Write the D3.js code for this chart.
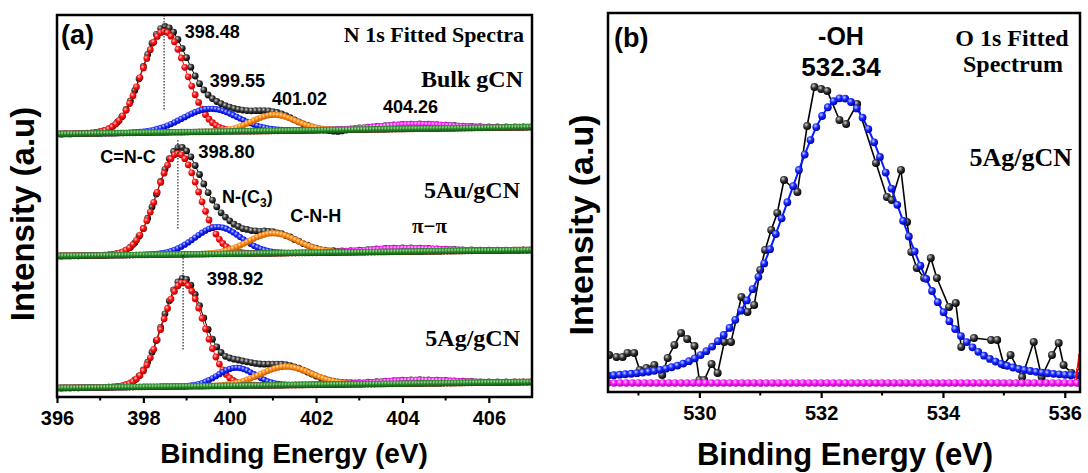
<!DOCTYPE html>
<html>
<head>
<meta charset="utf-8">
<script src="https://cdn.jsdelivr.net/npm/d3@7/dist/d3.min.js"></script>
<style>
  html, body { margin: 0; padding: 0; background: #fff; }
  svg { display: block; }
  text { font-family: "Liberation Sans", Arial, sans-serif; font-weight: bold; fill: #000; }
  text.serif { font-family: "Liberation Serif", "Times New Roman", serif; }
</style>
</head>
<body>
<svg id="chart" width="1088" height="473"></svg>
<script>
// ================= N 1s fitted spectra (panel a) =================
// Measured counts are sampled every 0.1 eV from 396.0 eV.
const n1sStart = 396.0;
const n1sStep = 0.1;
const n1sTicks = [396, 398, 400, 402, 404, 406];

const sampleNames = ["Bulk gCN", "5Au/gCN", "5Ag/gCN"];
const sampleOffsets = [263, 141, 9];      // vertical stacking offset (a.u.)
const backgroundRise = [7, 6, 6];         // linear background rise over 396-407 eV

// fitted components per sample: C=N-C, N-(C3), C-N-H, pi-pi
const bulkCenters = [398.48, 399.55, 401.02, 404.26];
const bulkHeights = [101, 23, 16, 4.5];
const bulkFwhm    = [1.2, 1.5, 1.2, 2.0];

const auCenters = [398.80, 399.72, 401.00, 404.00];
const auHeights = [101, 27, 20, 3.5];
const auFwhm    = [1.15, 1.25, 1.35, 2.0];

const agCenters = [398.92, 400.15, 401.30, 404.30];
const agHeights = [104, 18, 18.5, 3.5];
const agFwhm    = [1.12, 1.0, 1.4, 2.0];

const bulkCounts = [
  0.2, 0.0, 0.3, 0.1, 0.4, 0.5, 0.3, 0.9, 1.2, 1.6,
  2.4, 3.5, 5.4, 8.2, 12.0, 17.3, 24.5, 33.1, 43.6, 55.2,
  67.5, 79.6, 90.8, 99.6, 105.4, 107.6, 106.2, 101.9, 94.6, 85.7,
  76.3, 66.8, 58.0, 50.3, 44.1, 39.0, 35.4, 32.5, 30.3, 28.4,
  26.9, 25.6, 24.6, 23.9, 23.4, 23.2, 23.3, 23.3, 23.4, 23.1,
  22.4, 21.5, 20.1, 18.4, 16.3, 14.2, 12.1, 10.2, 8.5, 7.0,
  5.8, 4.9, 4.1, 3.4, 2.8, 2.6, 3.1, 3.9, 4.8, 5.4,
  6.1, 6.2, 6.8, 7.1, 7.6, 7.7, 8.4, 8.4, 9.0, 9.2,
  9.5, 9.4, 9.9, 9.6, 10.0, 9.6, 9.8, 9.3, 9.4, 8.9,
  8.9, 8.4, 8.5, 7.8, 7.9, 7.4, 7.6, 7.0, 7.3, 6.8,
  7.1, 6.7, 7.0, 6.6, 7.0, 6.7, 7.1, 6.8, 7.0, 6.9,
  7.1
];
const auCounts = [
  0.1, 0.0, 0.2, 0.1, 0.3, 0.2, 0.4, 0.3, 0.5, 0.6,
  0.7, 0.9, 1.1, 1.7, 2.5, 3.6, 5.9, 8.8, 13.2, 19.8,
  27.4, 37.8, 49.0, 61.9, 74.5, 86.7, 97.4, 104.5, 108.3, 108.6,
  105.1, 99.2, 90.5, 81.5, 72.1, 63.4, 55.9, 49.2, 43.2, 38.9,
  35.2, 31.8, 29.6, 27.4, 26.6, 25.4, 25.2, 24.7, 25.0, 24.5,
  24.4, 23.2, 22.4, 20.4, 19.0, 16.5, 14.9, 12.4, 10.9, 8.9,
  7.8, 6.3, 5.8, 5.2, 5.3, 4.7, 5.1, 4.8, 5.3, 5.1,
  5.8, 5.7, 6.4, 6.3, 7.0, 6.8, 7.5, 7.3, 7.9, 7.6,
  8.1, 7.7, 8.1, 7.6, 7.9, 7.4, 7.6, 7.0, 7.2, 6.7,
  6.8, 6.3, 6.5, 6.0, 6.2, 5.7, 6.0, 5.6, 5.9, 5.5,
  5.8, 5.6, 5.9, 5.5, 5.8, 5.7, 5.9, 5.7, 6.0, 5.8,
  6.0
];
const agCounts = [
  0.1, 0.0, 0.2, 0.1, 0.3, 0.2, 0.4, 0.3, 0.5, 0.4,
  0.7, 0.6, 0.9, 1.1, 1.5, 2.2, 3.3, 5.2, 8.0, 12.2,
  18.1, 25.9, 35.8, 47.5, 60.6, 74.2, 87.2, 98.2, 106.0, 109.6,
  108.6, 102.8, 93.7, 82.4, 70.2, 58.6, 48.8, 41.1, 35.5, 31.7,
  30.0, 28.8, 28.0, 27.0, 26.2, 25.4, 24.6, 24.0, 23.8, 23.8,
  23.8, 23.9, 23.8, 23.4, 22.4, 21.2, 19.8, 17.9, 16.0, 14.0,
  12.0, 10.4, 9.0, 7.8, 6.9, 6.1, 5.7, 5.3, 5.3, 5.0,
  5.4, 5.2, 5.8, 5.6, 6.3, 6.2, 6.9, 6.8, 7.4, 7.3,
  7.9, 7.7, 8.2, 7.9, 8.3, 7.9, 8.1, 7.7, 7.9, 7.4,
  7.5, 7.0, 7.2, 6.7, 6.8, 6.3, 6.5, 6.0, 6.2, 5.8,
  6.1, 5.7, 6.0, 5.6, 6.0, 5.7, 6.0, 5.8, 6.1, 5.9,
  6.1
];

// ================= O 1s fitted spectrum (panel b) =================
const o1sTicks = [530, 532, 534, 536];
const o1sEnergy = [
  528.52, 528.64, 528.74, 528.82, 528.93, 529.02, 529.13, 529.26, 529.39, 529.48,
  529.59, 529.70, 529.80, 529.92, 530.00, 530.08, 530.20, 530.30, 530.41, 530.52,
  530.69, 530.79, 530.90, 531.00, 531.08, 531.18, 531.28, 531.39, 531.61, 531.77,
  531.89, 532.00, 532.10, 532.30, 532.41, 532.59, 532.90, 533.08, 533.16, 533.31,
  533.41, 533.48, 533.57, 533.69, 533.80, 533.90, 534.10, 534.21, 534.30, 534.51,
  534.79, 534.89, 535.00, 535.11, 535.30, 535.49, 535.62, 535.79, 535.90, 535.98,
  536.11
];
const o1sCounts = [
  28, 26, 26, 30, 30, 13, 15, 18, 8, 25,
  38, 50, 44, 37, 3, 3, 19, 10, 41, 41,
  86, 71, 78, 113, 133, 153, 170, 203, 191, 257,
  296, 294, 292, 263, 259, 279, 220, 186, 183, 213,
  161, 131, 115, 105, 125, 105, 76, 80, 36, 45,
  43, 43, 18, 28, 6, 41, 6, 28, 40, 18,
  10
];
// -OH component (Gaussian-Lorentzian sum)
const ohCenter = 532.34;
const ohHeight = 285;
const ohFwhm = 2.25;
const ohLorentzFraction = 0.33;
const o1sBackground = 0;
// onset of a neighbouring component at the high-energy edge
const edgeEnergy = [536.18, 536.21, 536.24];
const edgeCounts = [4, 14, 28];

// ================= drawing =================
const svg = d3.select("#chart");
const defs = svg.append("defs");

function sphere(id, light, base, dark) {
  const g = defs.append("radialGradient").attr("id", id)
    .attr("cx", "38%").attr("cy", "34%").attr("r", "66%");
  g.append("stop").attr("offset", "0%").attr("stop-color", light);
  g.append("stop").attr("offset", "45%").attr("stop-color", base);
  g.append("stop").attr("offset", "100%").attr("stop-color", dark);
}
sphere("sp-black", "#d0d0d0", "#3c3c3c", "#000000");
sphere("sp-red", "#ffc8c8", "#ff1414", "#b00000");
sphere("sp-blue", "#c8d0ff", "#1a2cff", "#0000a8");
sphere("sp-orange", "#ffe2b8", "#ff8a10", "#c25a00");
sphere("sp-magenta", "#ffd6ff", "#ff18ff", "#b000b0");
sphere("sp-green", "#b0e0a8", "#2a8c2a", "#0b520b");

const gauss = (x, c, h, w) => h * Math.exp(-4 * Math.LN2 * (x - c) * (x - c) / (w * w));

// ---------- panel (a) ----------
const ax = d3.scaleLinear().domain([396, 407]).range([57, 532]);
const ay = d3.scaleLinear().domain([0, 382]).range([397, 15]);

svg.append("clipPath").attr("id", "clipA")
  .append("rect").attr("x", 57).attr("y", 15).attr("width", 475).attr("height", 382);
const pa = svg.append("g").attr("clip-path", "url(#clipA)");

const compColors = ["sp-red", "sp-blue", "sp-orange", "sp-magenta"];
const compStroke = ["#ff0000", "#1a2cff", "#ff8a10", "#ff18ff"];
const fineGrid = d3.range(396, 407.0001, 0.08);
const bgGrid = d3.range(396, 407.0001, 0.07);

const fits = [
  { c: bulkCenters, h: bulkHeights, w: bulkFwhm, counts: bulkCounts },
  { c: auCenters, h: auHeights, w: auFwhm, counts: auCounts },
  { c: agCenters, h: agHeights, w: agFwhm, counts: agCounts }
];

function drawSeries(g, pts, xs, ys, grad, stroke, r, lineW) {
  if (stroke) {
    g.append("path").datum(pts)
      .attr("fill", "none").attr("stroke", stroke).attr("stroke-width", lineW)
      .attr("d", d3.line().x(d => xs(d[0])).y(d => ys(d[1])));
  }
  g.selectAll(null).data(pts).join("circle")
    .attr("cx", d => xs(d[0])).attr("cy", d => ys(d[1])).attr("r", r)
    .attr("fill", `url(#${grad})`);
}

fits.forEach((f, i) => {
  const off = sampleOffsets[i];
  const bg = x => off + backgroundRise[i] * (x - 396) / 11;
  const g = pa.append("g");
  // measured data
  const dataPts = f.counts.map((v, j) => [n1sStart + j * n1sStep, off + v]);
  drawSeries(g, dataPts, ax, ay, "sp-black", "#000", 3.4, 1);
  // fitted components
  f.c.forEach((c, k) => {
    const pts = fineGrid.map(x => [x, bg(x) + gauss(x, c, f.h[k], f.w[k])]);
    drawSeries(g, pts, ax, ay, compColors[k], compStroke[k], k === 0 ? 3.4 : 3.1, 1);
  });
  // background
  const bgPts = bgGrid.map(x => [x, bg(x)]);
  drawSeries(g, bgPts, ax, ay, "sp-green", null, 3.3, 0);
});

// peak-position guide lines
const guideEnergy = [398.48, 398.80, 398.92];
const guideTop = [382, 257, 142];
const guideBottom = [287, 167, 47];
guideEnergy.forEach((e, i) => {
  svg.append("line")
    .attr("x1", ax(e)).attr("x2", ax(e))
    .attr("y1", ay(guideTop[i])).attr("y2", ay(guideBottom[i]))
    .attr("stroke", "#000").attr("stroke-width", 1).attr("stroke-dasharray", "1.5,1.5");
});

// frame + axis
svg.append("rect").attr("x", 57).attr("y", 15).attr("width", 475).attr("height", 382)
  .attr("fill", "none").attr("stroke", "#000").attr("stroke-width", 2.5);

const axA = svg.append("g").attr("transform", "translate(0,397)")
  .call(d3.axisBottom(ax).tickValues(n1sTicks).tickSize(6).tickFormat(d3.format("d")));
axA.select(".domain").remove();
axA.selectAll("line").attr("stroke-width", 2.2);
axA.selectAll("text").attr("font-size", 20).attr("y", 28).attr("dy", 0)
  .style("font-family", '"Liberation Sans", Arial, sans-serif').style("font-weight", "bold");
svg.append("g").attr("transform", "translate(0,397)")
  .selectAll("line").data([397, 399, 401, 403, 405]).join("line")
  .attr("x1", d => ax(d)).attr("x2", d => ax(d)).attr("y1", 0).attr("y2", 3.5)
  .attr("stroke", "#000").attr("stroke-width", 2);

svg.append("text").attr("x", 294).attr("y", 463).attr("text-anchor", "middle")
  .attr("font-size", 28).text("Binding Energy (eV)");
svg.append("text").attr("transform", "translate(34,214) rotate(-90)")
  .attr("text-anchor", "middle").attr("font-size", 33).text("Intensity (a.u)");

svg.append("text").attr("x", 61).attr("y", 44).attr("font-size", 27).text("(a)");
svg.append("text").attr("class", "serif").attr("x", 524).attr("y", 42)
  .attr("text-anchor", "end").attr("font-size", 22).text("N 1s Fitted Spectra");
const sampleLabelY = [87, 198, 346];
sampleNames.forEach((s, i) => {
  svg.append("text").attr("class", "serif").attr("x", i === 0 ? 523 : 520).attr("y", sampleLabelY[i])
    .attr("text-anchor", "end").attr("font-size", 24).text(s);
});

// peak annotations (energy, a.u.)
const peakText = (e, v, t, size) => svg.append("text")
  .attr("x", ax(e)).attr("y", ay(v)).attr("font-size", size).text(t);
peakText(398.96, 359, "398.48", 18);
peakText(399.54, 310, "399.55", 18);
peakText(400.98, 292, "401.02", 18);
peakText(403.55, 284, "404.26", 18);
peakText(397.0, 234, "C=N-C", 18);
peakText(399.27, 239, "398.80", 18.5);
const nc3 = peakText(399.82, 194, "N-(C", 18);
nc3.append("tspan").attr("font-size", 12).attr("dy", 4).text("3");
nc3.append("tspan").attr("dy", -4).text(")");
peakText(401.4, 175, "C-N-H", 18);
peakText(404.22, 164, "π−π", 21).attr("class", "serif");
peakText(399.47, 112, "398.92", 18.5);

// ---------- panel (b) ----------
const bx = d3.scaleLinear().domain([528.5, 536.25]).range([608, 1080]);
const by = d3.scaleLinear().domain([-9, 370]).range([392, 13]);

svg.append("clipPath").attr("id", "clipB")
  .append("rect").attr("x", 608).attr("y", 13).attr("width", 472).attr("height", 379);
const pb = svg.append("g").attr("clip-path", "url(#clipB)");

const glPeak = x => {
  const d = x - ohCenter;
  const gPart = Math.exp(-4 * Math.LN2 * d * d / (ohFwhm * ohFwhm));
  const lPart = 1 / (1 + 4 * d * d / (ohFwhm * ohFwhm));
  return o1sBackground + ohHeight * ((1 - ohLorentzFraction) * gPart + ohLorentzFraction * lPart);
};

const o1sPts = o1sEnergy.map((e, i) => [e, o1sCounts[i]]);
drawSeries(pb, o1sPts, bx, by, "sp-black", "#000", 4, 1.6);
const ohPts = d3.range(528.5, 536.3, 0.095).map(x => [x, glPeak(x)]);
drawSeries(pb, ohPts, bx, by, "sp-blue", "#0a1cff", 3.9, 2);
const edgePts = edgeEnergy.map((e, i) => [e, edgeCounts[i]]);
drawSeries(pb, edgePts, bx, by, "sp-red", "#ff0000", 1.6, 2);
const basePts = d3.range(528.5, 536.3, 0.1).map(x => [x, o1sBackground]);
drawSeries(pb, basePts, bx, by, "sp-magenta", "#ff18ff", 3.8, 1);

svg.append("rect").attr("x", 608).attr("y", 13).attr("width", 472).attr("height", 379)
  .attr("fill", "none").attr("stroke", "#000").attr("stroke-width", 2.5);

const axB = svg.append("g").attr("transform", "translate(0,392)")
  .call(d3.axisBottom(bx).tickValues(o1sTicks).tickSize(6).tickFormat(d3.format("d")));
axB.select(".domain").remove();
axB.selectAll("line").attr("stroke-width", 2.2);
axB.selectAll("text").attr("font-size", 20).attr("y", 28).attr("dy", 0)
  .style("font-family", '"Liberation Sans", Arial, sans-serif').style("font-weight", "bold");
svg.append("g").attr("transform", "translate(0,392)")
  .selectAll("line").data([529, 531, 533, 535]).join("line")
  .attr("x1", d => bx(d)).attr("x2", d => bx(d)).attr("y1", 0).attr("y2", 3.5)
  .attr("stroke", "#000").attr("stroke-width", 2);

svg.append("text").attr("x", 845).attr("y", 465).attr("text-anchor", "middle")
  .attr("font-size", 31).text("Binding Energy (eV)");
svg.append("text").attr("transform", "translate(593,225) rotate(-90)")
  .attr("text-anchor", "middle").attr("font-size", 34).text("Intensity (a.u)");

svg.append("text").attr("x", 614).attr("y", 47).attr("font-size", 27).text("(b)");
svg.append("text").attr("x", 841).attr("y", 45).attr("text-anchor", "middle")
  .attr("font-size", 25).text("-OH");
svg.append("text").attr("x", 841).attr("y", 76).attr("text-anchor", "middle")
  .attr("font-size", 26).text("532.34");
svg.append("text").attr("class", "serif").attr("x", 1012).attr("y", 46)
  .attr("text-anchor", "middle").attr("font-size", 24).text("O 1s Fitted");
svg.append("text").attr("class", "serif").attr("x", 1013).attr("y", 72)
  .attr("text-anchor", "middle").attr("font-size", 24).text("Spectrum");
svg.append("text").attr("class", "serif").attr("x", 1072).attr("y", 166)
  .attr("text-anchor", "end").attr("font-size", 26).text("5Ag/gCN");
</script>
</body>
</html>
